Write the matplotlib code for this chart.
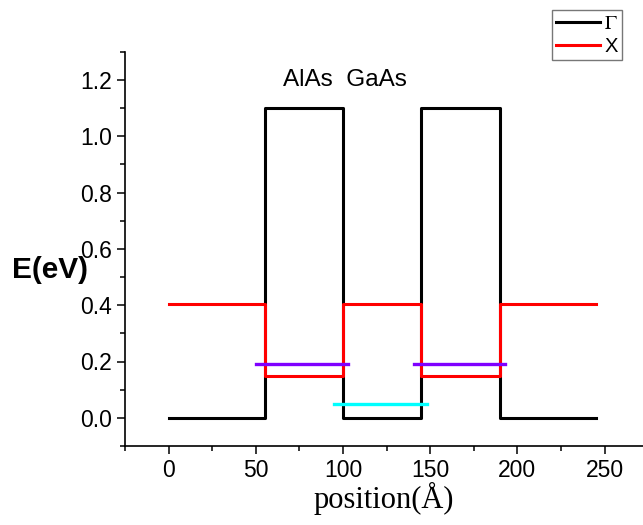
import numpy as np
import matplotlib.pyplot as plt
from matplotlib.ticker import MultipleLocator

plt.rcParams['font.family'] = ['Liberation Sans', 'DejaVu Sans']
plt.rcParams['mathtext.fontset'] = 'stix'

# band edges along the superlattice (step profiles)
pos = [0, 55, 55, 100, 100, 145, 145, 190, 190, 245]
gamma = [0, 0, 1.1, 1.1, 0, 0, 1.1, 1.1, 0, 0]
xband = [0.404, 0.404, 0.15, 0.15, 0.404, 0.404, 0.15, 0.15, 0.404, 0.404]

# bound state levels
x_level = 0.19
x_level_spans = [(50, 103), (140.5, 193)]
g_level = 0.05
g_level_span = (95, 148)

fig = plt.figure(figsize=(6.43, 5.25), dpi=100)
ax = fig.add_axes([0.1944, 0.1505, 0.8056, 0.751])

ax.plot(pos, gamma, color='black', linewidth=2.2, label=r'$\mathrm{\Gamma}$')
ax.plot(pos, xband, color='red', linewidth=2.2, label='X')
for a, b in x_level_spans:
    ax.plot([a, b], [x_level, x_level], color='#7f00ff', linewidth=2.4)
ax.plot(list(g_level_span), [g_level, g_level], color='cyan', linewidth=2.4)

ax.text(101, 1.2, 'AlAs  GaAs', ha='center', va='center', fontsize=17.5)

ax.set_xlim(-25, 272)
ax.set_ylim(-0.1, 1.3)
ax.xaxis.set_major_locator(MultipleLocator(50))
ax.xaxis.set_minor_locator(MultipleLocator(25))
ax.set_yticks(np.arange(0, 1.21, 0.2))
ax.yaxis.set_minor_locator(MultipleLocator(0.1))
ax.yaxis.set_major_formatter(plt.FormatStrFormatter('%.1f'))

for s in ['top', 'right']:
    ax.spines[s].set_visible(False)
for s in ['left', 'bottom']:
    ax.spines[s].set_linewidth(1.2)
ax.tick_params(which='major', direction='out', length=6, width=1.1, labelsize=16.5)
ax.tick_params(which='minor', direction='out', length=3.5, width=1.1)

ax.set_xlabel('position(Å)', family='Liberation Serif', fontsize=22, labelpad=0)
fig.text(50 / 643, 1 - 270 / 525, 'E(eV)', fontsize=21.5, fontweight='bold',
         ha='center', va='center')

leg = fig.legend(loc='upper left', bbox_to_anchor=(552 / 643, 1 - 9.7 / 525),
                 borderaxespad=0, fontsize=14.5, handlelength=2.2, handletextpad=0.2,
                 borderpad=0.2, labelspacing=0.2, fancybox=False, framealpha=1)
leg.get_frame().set_edgecolor('#777777')
leg.get_frame().set_linewidth(1.0)

fig.savefig('out.png', dpi=100)
